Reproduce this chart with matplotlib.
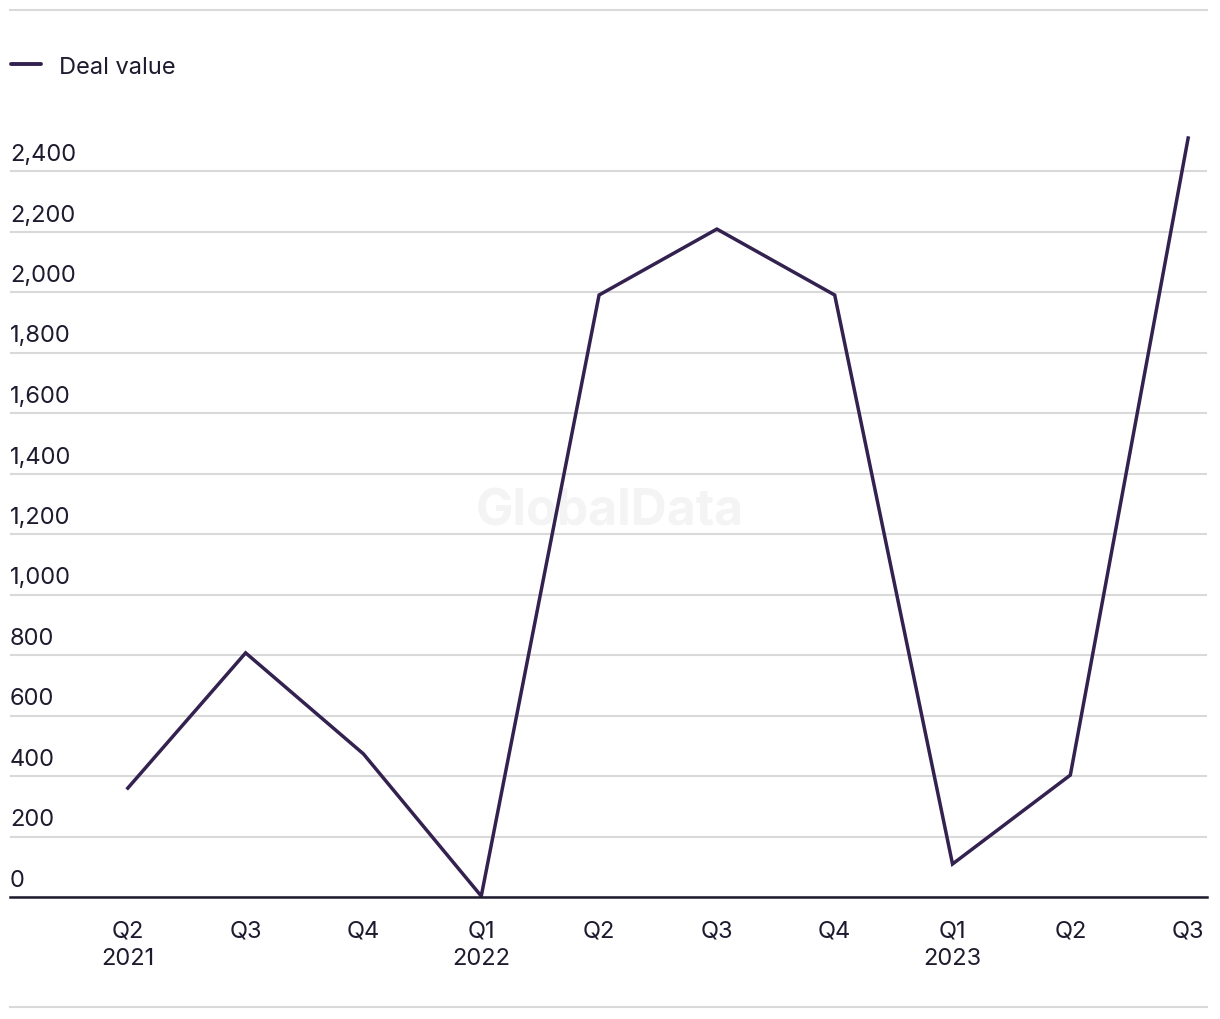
import matplotlib
matplotlib.use("Agg")
import matplotlib.pyplot as plt
from matplotlib.lines import Line2D
import matplotlib.transforms as mtransforms

quarters = ["Q2\n2021", "Q3", "Q4", "Q1\n2022", "Q2", "Q3", "Q4", "Q1\n2023", "Q2", "Q3"]
deal_value = [360, 807, 473, 3, 1990, 2208, 1990, 109, 403, 2509]
y_ticks = [0, 200, 400, 600, 800, 1000, 1200, 1400, 1600, 1800, 2000, 2200, 2400]
y_labels = ["0", "200", "400", "600", "800", "1,000", "1,200", "1,400", "1,600", "1,800", "2,000", "2,200", "2,400"]
series_name = "Deal value"

plt.rcParams['font.family'] = ['Inter', 'DejaVu Sans']
text_color = "#1d1b2e"
line_color = "#33214f"
grid_color = "#d9d9d9"

W, H = 1220, 1020
fig = plt.figure(figsize=(W / 100, H / 100), dpi=100)

left, right = 10 / W, 1207 / W
bottom = 1 - 898 / H
ymax = 2600
top_px = 898 - ymax * (726 / 2400)
top = 1 - top_px / H
ax = fig.add_axes([left, bottom, right - left, top - bottom])

x = list(range(len(quarters)))
ax.plot(x, deal_value, color=line_color, lw=2.5, solid_joinstyle='miter', zorder=3)

ax.set_xlim(-1.0, 9.16)
ax.set_ylim(0, ymax)
ax.set_yticks(y_ticks)
ax.set_yticklabels(y_labels)
ax.set_xticks(x)
ax.set_xticklabels(quarters, linespacing=1.35)
ax.grid(axis='y', color=grid_color, lw=1.5, zorder=0)
ax.set_axisbelow(True)
for s in ["top", "right", "left"]:
    ax.spines[s].set_visible(False)
ax.spines["bottom"].set_color(text_color)
ax.spines["bottom"].set_linewidth(1.8)
ax.spines["bottom"].set_zorder(4)
ax.tick_params(axis='both', length=0, labelsize=17, colors=text_color)
ax.tick_params(axis='y', pad=0)
ax.tick_params(axis='x', pad=16)

offset = mtransforms.ScaledTranslation(0, 6 / 100, fig.dpi_scale_trans)
for lab in ax.get_yticklabels():
    lab.set_horizontalalignment('left')
    lab.set_verticalalignment('bottom')
    lab.set_transform(lab.get_transform() + offset)

# watermark (beneath the data line)
ax.text(610 / W, 1 - 512 / H, "GlobalData", ha='center', va='center',
        fontsize=36, fontweight='bold', color='#f4f4f4', zorder=1,
        transform=fig.transFigure)

# top and bottom separator lines
fig.add_artist(Line2D([10 / W, 1207 / W], [1 - 11 / H, 1 - 11 / H], color=grid_color, lw=1.5))
fig.add_artist(Line2D([10 / W, 1207 / W], [1 - 1008 / H, 1 - 1008 / H], color=grid_color, lw=1.5))

# legend
fig.add_artist(Line2D([11 / W, 41 / W], [1 - 65 / H, 1 - 65 / H], color=line_color, lw=2.8,
                      solid_capstyle='round'))
fig.text(59 / W, 1 - 68 / H, series_name, ha='left', va='center', fontsize=17, color=text_color)

fig.savefig("out.png", dpi=100)
